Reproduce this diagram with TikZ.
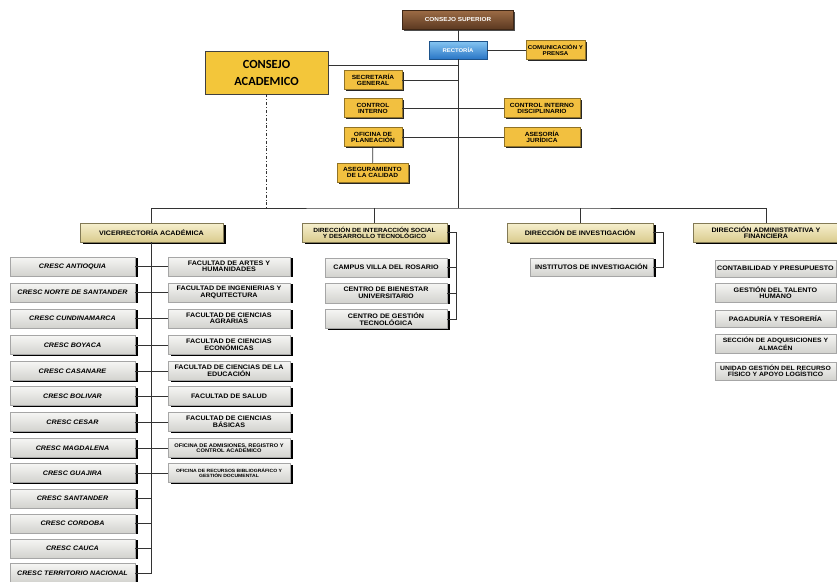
\documentclass[tikz,border=0pt]{standalone}
\usepackage{fontspec}
\newfontfamily\cajas[FakeStretch=1.1]{Liberation Sans}
\newfontfamily\titulo{Carlito}
\usetikzlibrary{shadows}
\definecolor{oro}{HTML}{F2C040}
\definecolor{cafeclaro}{HTML}{9C6B45}
\definecolor{cafeoscuro}{HTML}{5A3820}
\definecolor{azulclaro}{HTML}{86C6F2}
\definecolor{azuloscuro}{HTML}{2A76C6}
\definecolor{beigeclaro}{HTML}{F6F0CE}
\definecolor{beigeoscuro}{HTML}{DACB8E}
\definecolor{grisclaro}{HTML}{F6F6F4}
\definecolor{grisoscuro}{HTML}{D2D2CE}
\newcommand{\letra}[1]{\cajas\bfseries\fontsize{#1}{#1}\selectfont}

\tikzset{
  tam/.style 2 args={minimum width=#1pt, minimum height=#2pt},
  linea/.style={draw=black!80, line width=0.7pt},
  superior/.style={top color=cafeclaro, bottom color=cafeoscuro, draw=cafeoscuro!70!black,
    text=white, inner sep=1pt, font=\letra{5.8},
    drop shadow={shadow xshift=1.2pt,shadow yshift=-1.2pt,fill=black!70,opacity=1}},
  rectoria/.style={top color=azulclaro, bottom color=azuloscuro, draw=azuloscuro!70!black,
    text=white, inner sep=1pt, font=\letra{5.4},
    drop shadow={shadow xshift=1.2pt,shadow yshift=-1.2pt,fill=black!70,opacity=1}},
  amarilla/.style={fill=oro, draw=oro!60!black, align=center, inner sep=1pt, font=\letra{6},
    drop shadow={shadow xshift=1.5pt,shadow yshift=-1.5pt,fill=black!85,opacity=1}},
  academico/.style={fill=oro!90!yellow, draw=black!75, line width=0.8pt, align=center,
    font=\titulo\bfseries\fontsize{12.4}{17}\selectfont,
    drop shadow={shadow xshift=1pt,shadow yshift=-1pt,fill=black!50,opacity=1}},
  beige/.style={top color=beigeclaro, bottom color=beigeoscuro, draw=beigeoscuro!60!black,
    align=center, inner sep=1pt, font=\letra{6.5},
    drop shadow={shadow xshift=2.5pt,shadow yshift=-1.5pt,fill=black,opacity=1}},
  gris/.style={top color=grisclaro, bottom color=grisoscuro, draw=black!35,
    align=center, inner sep=1pt, font=\letra{6.5},
    drop shadow={shadow xshift=2.5pt,shadow yshift=-1pt,fill=black,opacity=1}},
  cresc/.style={gris, tam={125}{19}, font=\letra{6.5}\itshape},
  facultad/.style={gris, tam={122}{19}},
}

\begin{document}
\begin{tikzpicture}[x=1pt,y=-1pt]
\useasboundingbox (0,0) rectangle (837,581);

% cabeza
\node[superior,tam={111}{19}] (superior) at (458,20) {CONSEJO SUPERIOR};
\node[rectoria,tam={58}{18}] (rectoria) at (458,50) {RECTORÍA};
\node[amarilla,tam={59}{19},font=\letra{5.6}] (comunicacion) at (555.5,50) {COMUNICACIÓN Y\\PRENSA};
\node[academico,tam={123}{43}] (academico) at (266.5,72.5) {CONSEJO\\ACADEMICO};
\node[amarilla,tam={58}{19}] (secretaria) at (373,80) {SECRETARÍA\\GENERAL};
\node[amarilla,tam={58}{19}] (control) at (373,108) {CONTROL\\INTERNO};
\node[amarilla,tam={76}{19}] (disciplinario) at (542,108) {CONTROL INTERNO\\DISCIPLINARIO};
\node[amarilla,tam={58}{19}] (planeacion) at (373,137) {OFICINA DE\\PLANEACIÓN};
\node[amarilla,tam={76}{19}] (juridica) at (542,137) {ASESORÍA\\JURÍDICA};
\node[amarilla,tam={71}{19}] (aseguramiento) at (372.5,172.5) {ASEGURAMIENTO\\DE LA CALIDAD};
\coordinate (bus) at (458,208);

% direcciones
\node[beige,tam={143}{19}] (vice) at (151.5,232.5) {VICERRECTORÍA ACADÉMICA};
\node[beige,tam={145}{19},font=\letra{6}] (interaccion) at (374.5,232.5) {DIRECCIÓN DE INTERACCIÓN SOCIAL\\Y DESARROLLO TECNOLÓGICO};
\node[beige,tam={146}{19}] (investigacion) at (580,232.5) {DIRECCIÓN DE INVESTIGACIÓN};
\node[beige,tam={146}{19}] (administrativa) at (766,232.5) {DIRECCIÓN ADMINISTRATIVA Y\\FINANCIERA};

% interaccion social
\node[gris,tam={122}{19}] (campus) at (386,267.5) {CAMPUS VILLA DEL ROSARIO};
\node[gris,tam={122}{20}] (bienestar) at (386,293) {CENTRO DE BIENESTAR\\UNIVERSITARIO};
\node[gris,tam={122}{19}] (gestiontec) at (386,319) {CENTRO DE GESTIÓN\\TECNOLÓGICA};
\coordinate (ejeint) at (456,232.5);

% investigacion
\node[gris,tam={123}{18}] (institutos) at (591.5,267) {INSTITUTOS DE INVESTIGACIÓN};
\coordinate (ejeinv) at (663,232.5);

% administrativa
\node[gris,tam={121}{17}] (contabilidad) at (775.5,268.5) {CONTABILIDAD Y PRESUPUESTO};
\node[gris,tam={121}{19}] (talento) at (775.5,292.5) {GESTIÓN DEL TALENTO\\HUMANO};
\node[gris,tam={121}{17}] (pagaduria) at (775.5,318.5) {PAGADURÍA Y TESORERÍA};
\node[gris,tam={121}{19},font=\letra{6.2}] (adquisiciones) at (775.5,343.5) {SECCIÓN DE ADQUISICIONES Y\\ALMACÉN};
\node[gris,tam={121}{18},font=\letra{6.2}] (recurso) at (775.5,371) {UNIDAD GESTIÓN DEL RECURSO\\FÍSICO Y APOYO LOGÍSTICO};

% cresc
\node[cresc] (cresc1) at (72.5,266.5) {CRESC ANTIOQUIA};
\node[cresc] (cresc2) at (72.5,292.5) {CRESC NORTE DE SANTANDER};
\node[cresc] (cresc3) at (72.5,318.5) {CRESC CUNDINAMARCA};
\node[cresc] (cresc4) at (72.5,345) {CRESC BOYACA};
\node[cresc] (cresc5) at (72.5,371) {CRESC CASANARE};
\node[cresc] (cresc6) at (72.5,396) {CRESC BOLIVAR};
\node[cresc] (cresc7) at (72.5,422) {CRESC CESAR};
\node[cresc] (cresc8) at (72.5,448) {CRESC MAGDALENA};
\node[cresc] (cresc9) at (72.5,473) {CRESC GUAJIRA};
\node[cresc] (cresc10) at (72.5,498.5) {CRESC SANTANDER};
\node[cresc] (cresc11) at (72.5,523.5) {CRESC CORDOBA};
\node[cresc] (cresc12) at (72.5,548.5) {CRESC CAUCA};
\node[cresc] (cresc13) at (72.5,573) {CRESC TERRITORIO NACIONAL};

% facultades
\node[facultad] (fac1) at (229,266.5) {FACULTAD DE ARTES Y\\HUMANIDADES};
\node[facultad] (fac2) at (229,292.5) {FACULTAD DE INGENIERIAS Y\\ARQUITECTURA};
\node[facultad] (fac3) at (229,318.5) {FACULTAD DE CIENCIAS\\AGRARIAS};
\node[facultad] (fac4) at (229,345) {FACULTAD DE CIENCIAS\\ECONÓMICAS};
\node[facultad] (fac5) at (229,371) {FACULTAD DE CIENCIAS DE LA\\EDUCACIÓN};
\node[facultad] (fac6) at (229,396) {FACULTAD DE SALUD};
\node[facultad] (fac7) at (229,422) {FACULTAD DE CIENCIAS\\BÁSICAS};
\node[facultad,font=\letra{5.2}] (fac8) at (229,448) {OFICINA DE ADMISIONES, REGISTRO Y\\CONTROL ACADEMICO};
\node[facultad,font=\letra{4.6}] (fac9) at (229,473) {OFICINA DE RECURSOS BIBLIOGRÁFICO Y\\GESTIÓN DOCUMENTAL};

% conectores
\draw[linea] (superior) -- (rectoria);
\draw[linea] (rectoria) -- (comunicacion);
\draw[linea] (rectoria) -- (bus);
\draw[linea] ([yshift=7pt]academico.east) -- ([yshift=7pt]academico.east -| bus);
\draw[linea] (secretaria) -- (secretaria -| bus);
\draw[linea] (control) -- (disciplinario);
\draw[linea] (planeacion) -- (juridica);
\draw[linea] (planeacion) -- (aseguramiento);
\draw[linea,dashdotted] (academico.south) -- (academico.south |- bus);
\draw[linea] (vice.north) |- (bus) -| (administrativa.north);
\draw[linea] (interaccion.north) -- (interaccion.north |- bus);
\draw[linea] (investigacion.north) -- (investigacion.north |- bus);

\draw[linea] (interaccion.east) -- (ejeint) |- (gestiontec.east);
\draw[linea] (campus.east) -- (campus.east -| ejeint);
\draw[linea] (bienestar.east) -- (bienestar.east -| ejeint);
\draw[linea] (investigacion.east) -- (ejeinv) |- (institutos.east);

\draw[linea] (vice.south) -- (vice.south |- cresc13.east);
\draw[linea] (cresc1) -- (fac1);
\draw[linea] (cresc2) -- (fac2);
\draw[linea] (cresc3) -- (fac3);
\draw[linea] (cresc4) -- (fac4);
\draw[linea] (cresc5) -- (fac5);
\draw[linea] (cresc6) -- (fac6);
\draw[linea] (cresc7) -- (fac7);
\draw[linea] (cresc8) -- (fac8);
\draw[linea] (cresc9) -- (fac9);
\draw[linea] (cresc10.east) -- (cresc10.east -| vice.south);
\draw[linea] (cresc11.east) -- (cresc11.east -| vice.south);
\draw[linea] (cresc12.east) -- (cresc12.east -| vice.south);
\draw[linea] (cresc13.east) -- (cresc13.east -| vice.south);
\end{tikzpicture}
\end{document}
